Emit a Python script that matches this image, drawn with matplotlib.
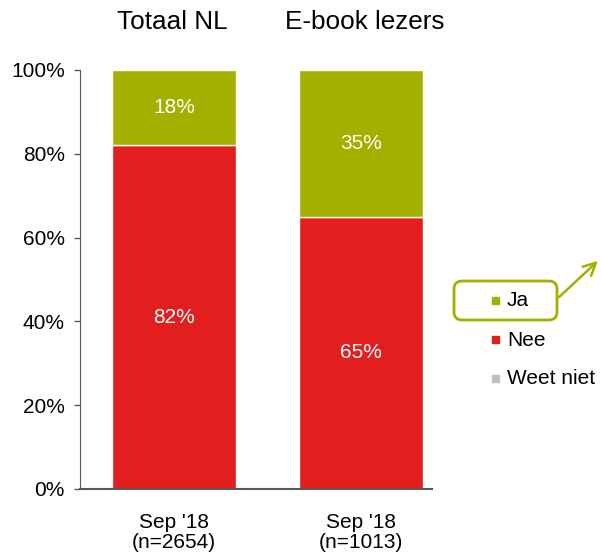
import matplotlib
matplotlib.use("Agg")
import matplotlib.pyplot as plt
from matplotlib.patches import FancyBboxPatch, FancyArrowPatch

plt.rcParams["font.family"] = ["Liberation Sans", "DejaVu Sans"]

groups = ["Totaal NL", "E-book lezers"]
xlabels = ["Sep '18\n(n=2654)", "Sep '18\n(n=1013)"]
ja = [18, 35]
nee = [82, 65]
weet_niet = [0, 0]
series_names = ["Ja", "Nee", "Weet niet"]
colors = ["#A3B000", "#E21E1E", "#BFBFBF"]

fig = plt.figure(figsize=(6.01, 5.52), dpi=100)
ax = fig.add_axes([80/601, 63/552, 352/601, 419/552])

x = [0, 1]
w = 0.663
ax.bar(x, nee, width=w, color=colors[1], edgecolor="white", linewidth=1)
ax.bar(x, ja, width=w, bottom=nee, color=colors[0], edgecolor="white", linewidth=1)
ax.bar(x, weet_niet, width=w, bottom=[a + b for a, b in zip(nee, ja)], color=colors[2])

for i in range(2):
    ax.text(x[i], nee[i] / 2, f"{nee[i]}%", ha="center", va="center", color="white", fontsize=15)
    ax.text(x[i], nee[i] + ja[i] / 2, f"{ja[i]}%", ha="center", va="center", color="white", fontsize=15)

ax.set_xlim(-0.503, 1.38)
ax.set_ylim(0, 100)
ax.set_yticks(range(0, 101, 20))
ax.set_yticklabels([f"{v}%" for v in range(0, 101, 20)], fontsize=15)
ax.set_xticks(x)
ax.set_xticklabels(xlabels, fontsize=15, linespacing=1.1)
ax.tick_params(axis="x", length=0, pad=17)
ax.tick_params(axis="y", length=4, width=1, color="#595959", pad=7)
for s in ["top", "right"]:
    ax.spines[s].set_visible(False)
ax.spines["left"].set_color("#595959")
ax.spines["bottom"].set_color("#595959")
ax.spines["bottom"].set_linewidth(1.5)

for i, g in enumerate(groups):
    fig.text([172, 365][i] / 601, 1 - 22 / 552, g, ha="center", va="center", fontsize=18.8)

# legend
leg_y = [300, 339, 378]
for name, c, yy in zip(series_names, colors, leg_y):
    fig.patches.append(plt.Rectangle((492 / 601, 1 - (yy + 3.5) / 552), 7 / 601, 7 / 552,
                                     transform=fig.transFigure, color=c))
    fig.text(507 / 601, 1 - (yy + 1) / 552, name, ha="left", va="center", fontsize=15)

box = FancyBboxPatch((454 / 601, 1 - 320 / 552), 103 / 601, 39 / 552,
                     boxstyle="round,pad=0,rounding_size=0.014",
                     transform=fig.transFigure, fill=False, edgecolor="#A3B000", linewidth=2)
fig.patches.append(box)
arr = FancyArrowPatch((557 / 601, 1 - 299 / 552), (600 / 601, 1 - 259 / 552),
                      transform=fig.transFigure, arrowstyle="->,head_length=9,head_width=4.5",
                      color="#A3B000", linewidth=1.8)
fig.patches.append(arr)

fig.savefig("out.png", dpi=100)
